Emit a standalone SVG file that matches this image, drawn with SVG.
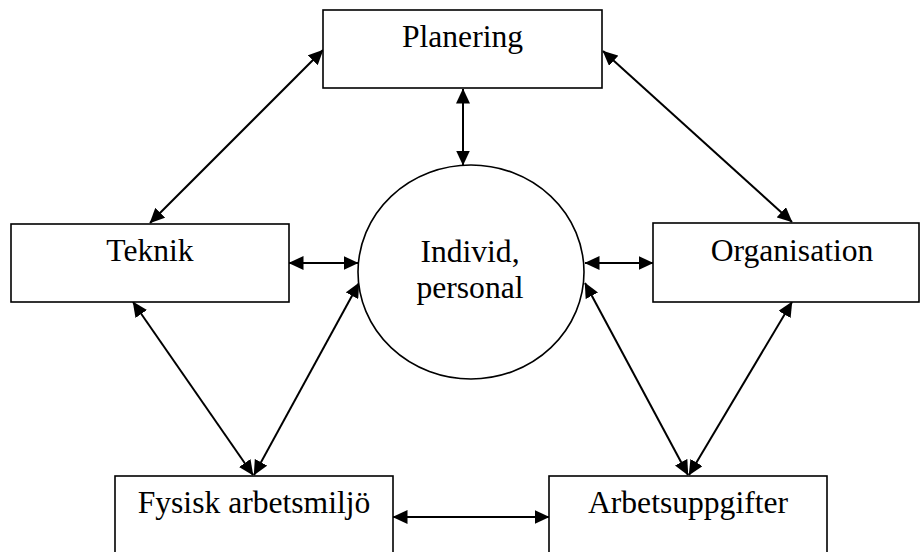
<svg xmlns="http://www.w3.org/2000/svg" width="920" height="552" viewBox="0 0 920 552">
  <style>
    .box { fill: #ffffff; stroke: #000000; stroke-width: 1.6; }
    .lbl { font-family: "Liberation Serif", "Times New Roman", serif; font-size: 31.6px; fill: #000000; text-anchor: middle; }
    .conn { stroke: #000000; stroke-width: 2; fill: none; marker-start: url(#ah); marker-end: url(#ah); }
  </style>
  <defs>
    <marker id="ah" markerUnits="userSpaceOnUse" markerWidth="15" markerHeight="14" viewBox="0 0 15 14" refX="14.5" refY="7" orient="auto-start-reverse">
      <path d="M0,0 L15,7 L0,14 Z" fill="#000000"/>
    </marker>
  </defs>
  <rect width="920" height="552" fill="#ffffff"/>

  <g id="connectors">
    <line class="conn" x1="463" y1="89" x2="463" y2="165"/>
    <line class="conn" x1="323" y1="50" x2="150" y2="223"/>
    <line class="conn" x1="603" y1="51" x2="792" y2="222"/>
    <line class="conn" x1="289" y1="263" x2="358" y2="263"/>
    <line class="conn" x1="585" y1="263" x2="653" y2="263"/>
    <line class="conn" x1="133" y1="302" x2="253" y2="475"/>
    <line class="conn" x1="359" y1="283" x2="254" y2="475"/>
    <line class="conn" x1="585" y1="283" x2="688" y2="475"/>
    <line class="conn" x1="792" y1="302" x2="689" y2="475"/>
    <line class="conn" x1="393" y1="517" x2="549" y2="517"/>
  </g>

  <g id="planering">
    <rect class="box" x="323" y="10" width="279" height="78"/>
    <text class="lbl" x="462.5" y="47">Planering</text>
  </g>

  <g id="individ">
    <ellipse class="box" cx="471" cy="272" rx="113" ry="107"/>
    <text class="lbl" x="470" y="262">Individ,</text>
    <text class="lbl" x="470" y="298">personal</text>
  </g>

  <g id="teknik">
    <rect class="box" x="11" y="224" width="278" height="78"/>
    <text class="lbl" x="150" y="261">Teknik</text>
  </g>

  <g id="organisation">
    <rect class="box" x="653" y="223" width="266" height="79"/>
    <text class="lbl" x="792" y="261">Organisation</text>
  </g>

  <g id="fysisk">
    <rect class="box" x="115" y="476" width="278" height="90"/>
    <text class="lbl" x="254" y="513">Fysisk arbetsmiljö</text>
  </g>

  <g id="arbetsuppgifter">
    <rect class="box" x="549" y="476" width="278" height="90"/>
    <text class="lbl" x="688" y="513">Arbetsuppgifter</text>
  </g>
</svg>
